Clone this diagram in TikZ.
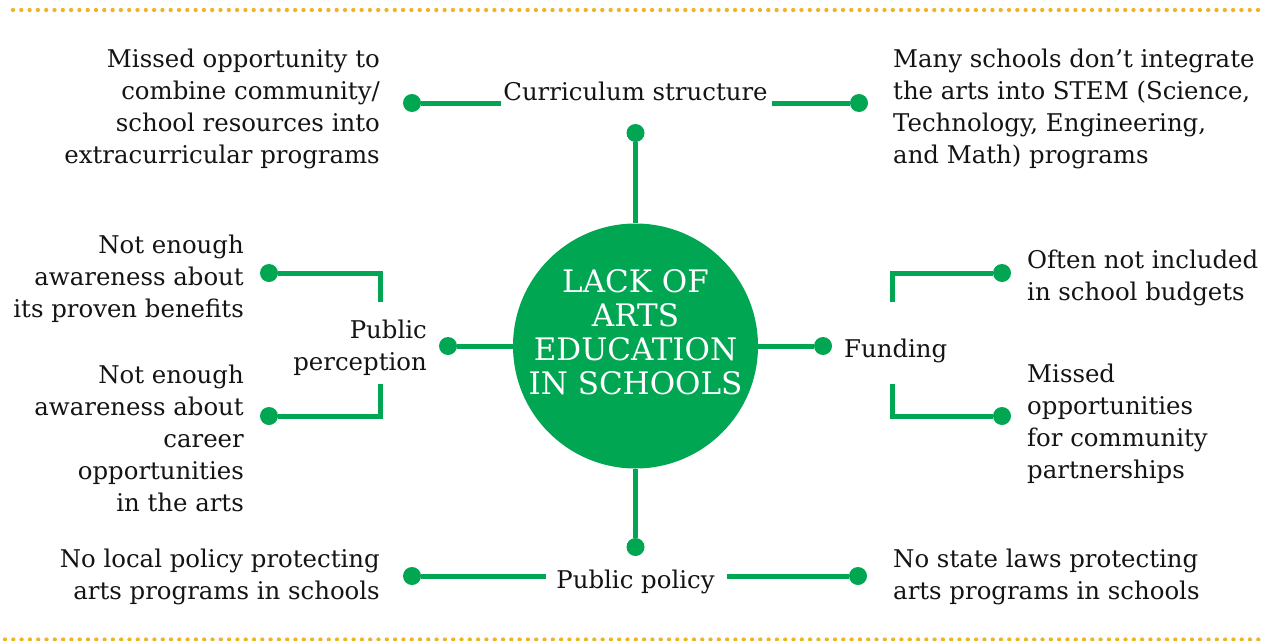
\documentclass[tikz,border=0pt]{standalone}
\usepackage{fontspec}
\setmainfont{DejaVu Serif}
\definecolor{grn}{HTML}{00A651}
\definecolor{gold}{HTML}{F0B323}
\definecolor{ink}{HTML}{141414}
\newcommand{\mylines}[2]{\begin{tabular}[t]{@{}#1@{}}#2\end{tabular}}
\tikzset{
  lbl/.style={font=\fontsize{24.4}{32}\selectfont, text=ink, inner sep=0pt},
  ttl/.style={font=\fontsize{31}{34.3}\selectfont, text=white, inner sep=0pt},
  dotnode/.style={circle, fill=grn, minimum size=18pt, inner sep=0pt},
  link/.style={draw=grn, line width=5pt},
  rule/.style={draw=gold, line width=4.3pt, line cap=round, dash pattern=on 0pt off 8.3pt}
}
\begin{document}
\begin{tikzpicture}[x=1pt, y=-1pt]
\useasboundingbox (0,0) rectangle (1269,640);
% dotted rules
\draw[rule] (13,10) -- (1258,10);
\draw[rule] (5,639.5) -- (1262,639.5);
% hub
\node[circle, fill=grn, minimum size=245pt, inner sep=0pt] (hub) at (635.5,346) {};
\node[ttl, anchor=base] (hubtxt) at (635.5,292) {\mylines{c}{LACK OF\\ARTS\\EDUCATION\\IN SCHOOLS}};
% branch dots
\node[dotnode] (ctop) at (635.5,133) {};
\node[dotnode] (cbot) at (635.5,547) {};
\node[dotnode] (cleft) at (448,346) {};
\node[dotnode] (cright) at (823,346) {};
\draw[link] (ctop) -- (hub.north);
\draw[link] (cbot) -- (hub.south);
\draw[link] (cleft) -- (hub.west);
\draw[link] (cright) -- (hub.east);
% category labels
\node[lbl, anchor=base] (curr) at (635.5,100) {Curriculum structure};
\node[lbl, anchor=base] (pol) at (635.5,588) {Public policy};
\node[lbl, anchor=base east] (perc) at (427,338) {\mylines{r}{Public\\perception}};
\node[lbl, anchor=base west] (fund) at (844,357) {Funding};
% curriculum leaves
\node[dotnode] (curL) at (412,103) {};
\node[dotnode] (curR) at (859,103) {};
\draw[link] (curL) -- ([xshift=-2pt]curL -| curr.west);
\draw[link] (curR) -- ([xshift=4pt]curR -| curr.east);
% policy leaves
\node[dotnode] (polL) at (412,576) {};
\node[dotnode] (polR) at (858,576) {};
\draw[link] (polL) -- ([xshift=-10pt]polL -| pol.west);
\draw[link] (polR) -- ([xshift=12pt]polR -| pol.east);
% perception brackets
\node[dotnode] (pA) at (269,273) {};
\coordinate (pAend) at (380,302);
\draw[link] (pA) -- (pA -| pAend) -- (pAend);
\node[dotnode] (pB) at (269,416) {};
\coordinate (pBend) at (380,384);
\draw[link] (pB) -- (pB -| pBend) -- (pBend);
% funding brackets
\node[dotnode] (fA) at (1002,273) {};
\coordinate (fAend) at (892,302);
\draw[link] (fA) -- (fA -| fAend) -- (fAend);
\node[dotnode] (fB) at (1002,416) {};
\coordinate (fBend) at (892,384);
\draw[link] (fB) -- (fB -| fBend) -- (fBend);
% leaf texts
\node[lbl, anchor=base east] (tl1) at (380,67) {\mylines{r}{Missed opportunity to\\combine community/\\school resources into\\extracurricular programs}};
\node[lbl, anchor=base west] (tr1) at (893,67) {\mylines{l}{Many schools don’t integrate\\the arts into STEM (Science,\\Technology, Engineering,\\and Math) programs}};
\node[lbl, anchor=base east] (pl1) at (244,253) {\mylines{r}{Not enough\\awareness about\\its proven benefits}};
\node[lbl, anchor=base east] (pl2) at (244,383) {\mylines{r}{Not enough\\awareness about\\career\\opportunities\\in the arts}};
\node[lbl, anchor=base west] (fr1) at (1027,268) {\mylines{l}{Often not included\\in school budgets}};
\node[lbl, anchor=base west] (fr2) at (1027,382) {\mylines{l}{Missed\\opportunities\\for community\\partnerships}};
\node[lbl, anchor=base east] (bl1) at (380,567) {\mylines{r}{No local policy protecting\\arts programs in schools}};
\node[lbl, anchor=base west] (br1) at (893,567) {\mylines{l}{No state laws protecting\\arts programs in schools}};
\end{tikzpicture}
\end{document}
